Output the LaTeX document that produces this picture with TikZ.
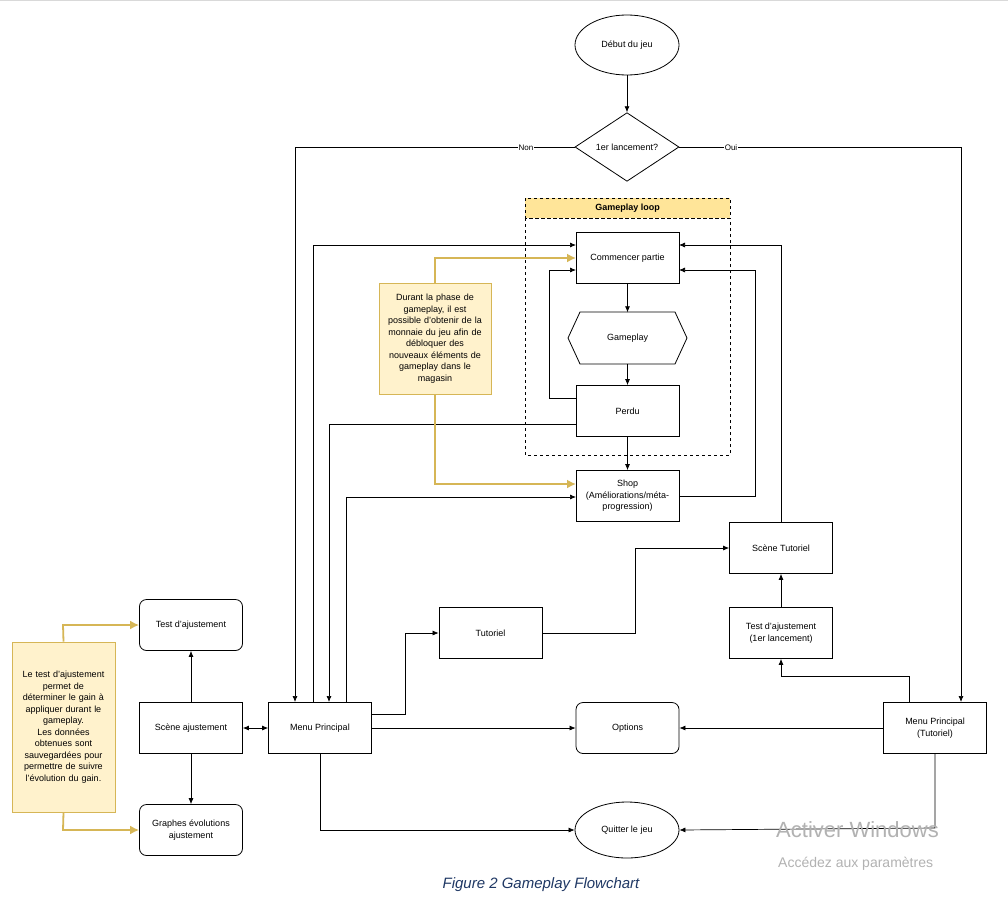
\documentclass[tikz,border=0pt]{standalone}
\usepackage{fontspec}
\setmainfont{Liberation Sans}
\usetikzlibrary{shapes.geometric,arrows.meta}
\definecolor{noteF}{HTML}{FFF2CC}
\definecolor{noteD}{HTML}{D6B656}
\definecolor{hdr}{HTML}{FFE599}
\definecolor{cap}{HTML}{1F3864}
\begin{document}
\begin{tikzpicture}[x=1pt,y=-1pt,
  every node/.style={font=\fontsize{9}{11.5}\selectfont,align=center,inner sep=1pt},
  box/.style={draw,line width=0.8pt,minimum width=103pt,minimum height=51pt},
  rbox/.style={box,rounded corners=7pt},
  ell/.style={draw,line width=0.8pt,ellipse,minimum width=104pt,minimum height=60pt},
  note/.style={draw=noteD,fill=noteF,line width=0.8pt,text width=108pt},
  arr/.style={line width=0.7pt,-{Latex[length=6pt,width=5pt]}},
  garr/.style={draw=noteD,line width=1.8pt,-{Latex[length=9pt,width=9pt]}}]
\useasboundingbox (0,0) rectangle (1008,907);
\fill[white] (0,0) rectangle (1008,907);
\draw[gray!30] (0,0.5) -- (1008,0.5);
% gameplay loop
\draw[dashed,line width=0.8pt,fill=hdr] (525,198) rectangle (730,218);
\draw[dashed,line width=0.8pt] (525,218) rectangle (730,455);
\node[font=\fontsize{9}{11}\selectfont\bfseries] (gl) at (627.5,208) {Gameplay loop};
% nodes
\node[ell] (deb) at (627,45) {Début du jeu};
\node[draw,line width=0.8pt,diamond,minimum width=104pt,minimum height=68pt,inner sep=0pt] (lan) at (627,147) {1er lancement?};
\node[box] (com) at (627.5,258) {Commencer partie};
\node[minimum width=119pt,minimum height=51pt] (gp) at (627.5,338) {Gameplay};
\draw[line width=0.8pt] (568,338) -- (580,312) -- (675,312) -- (687,338) -- (675,364) -- (580,364) -- cycle;
\node[box] (per) at (627.5,411) {Perdu};
\node[box] (shop) at (627.5,496) {Shop\\(Améliorations/méta-\\progression)};
\node[box] (mp) at (320,728) {Menu Principal};
\node[box] (sa) at (191,728) {Scène ajustement};
\node[rbox] (ta) at (191,625) {Test d'ajustement};
\node[rbox] (ge) at (191,830) {Graphes évolutions\\ajustement};
\node[box] (tut) at (490.5,633) {Tutoriel};
\node[box] (st) at (781,548) {Scène Tutoriel};
\node[box] (t1) at (781,633) {Test d'ajustement\\(1er lancement)};
\node[box] (mpt) at (935,728) {Menu Principal\\(Tutoriel)};
\node[rbox] (opt) at (627.5,728) {Options};
\node[ell,minimum height=56pt] (qj) at (627,830) {Quitter le jeu};
\node[note,minimum height=111pt,text width=110pt] (n1) at (435,338.5) {Durant la phase de\\gameplay, il est\\possible d'obtenir de la\\monnaie du jeu afin de\\débloquer des\\nouveaux éléments de\\gameplay dans le\\magasin};
\node[note,minimum height=170pt,text width=101pt] (n2) at (63.5,727) {Le test d'ajustement\\permet de\\déterminer le gain à\\appliquer durant le\\gameplay.\\Les données\\obtenues sont\\sauvegardées pour\\permettre de suivre\\l'évolution du gain.};
% connectors
\draw[arr] (deb) -- (lan);
\draw[arr] (lan.west) -- (295,147) -- (295,702);
\node[fill=white,inner sep=0.5pt,font=\fontsize{8}{10}\selectfont] (non) at (526,148) {Non};
\draw[arr] (lan.east) -- (961,147) -- (961,702);
\node[fill=white,inner sep=0.5pt,font=\fontsize{8}{10}\selectfont] (oui) at (731,148) {Oui};
\draw[arr] (com) -- (gp);
\draw[arr] (gp) -- (per);
\draw[arr] (per) -- (shop);
\draw[arr] (313,702) -- (313,245) -- (576,245);
\draw[arr] (576,398) -- (549,398) -- (549,270) -- (576,270);
\draw[arr] (st.north) -- (781,245) -- (679,245);
\draw[arr] (shop.east) -- (755,496) -- (755,270) -- (679,270);
\draw[arr] (576,424) -- (329,424) -- (329,702);
\draw[arr] (346,702) -- (346,497) -- (576,497);
\draw[line width=0.7pt,{Latex[length=6pt,width=5pt]}-{Latex[length=6pt,width=5pt]}] (sa) -- (mp);
\draw[arr] (sa) -- (ta);
\draw[arr] (sa) -- (ge);
\draw[arr] (371,714) -- (405,714) -- (405,633) -- (tut.west);
\draw[arr] (tut.east) -- (635,633) -- (635,548) -- (st.west);
\draw[arr] (t1) -- (st);
\draw[arr] (909,702) -- (909,676) -- (781,676) -- (t1.south);
\draw[arr] (mp) -- (opt);
\draw[arr] (mpt) -- (opt);
\draw[arr] (mp.south) -- (320,830) -- (qj.west);
\draw[arr] (mpt.south) -- (935,828) -- (qj.east);
\draw[garr] (n1.north) -- (435,258) -- (576,258);
\draw[garr] (n1.south) -- (435,484) -- (576,484);
\draw[garr] (n2.north) -- (63,625) -- (ta.west);
\draw[garr] (n2.south) -- (63,830) -- (ge.west);
% caption & watermark
\node[font=\fontsize{15}{17}\selectfont\itshape,text=cap] (capt) at (541,885) {Figure 2 Gameplay Flowchart};
\node[font=\fontsize{22}{24}\selectfont,text=gray!60,anchor=west] (w1) at (775,830) {Activer Windows};
\node[font=\fontsize{14}{16}\selectfont,text=gray!60,anchor=west] (w2) at (777,864) {Accédez aux paramètres};
\end{tikzpicture}
\end{document}
